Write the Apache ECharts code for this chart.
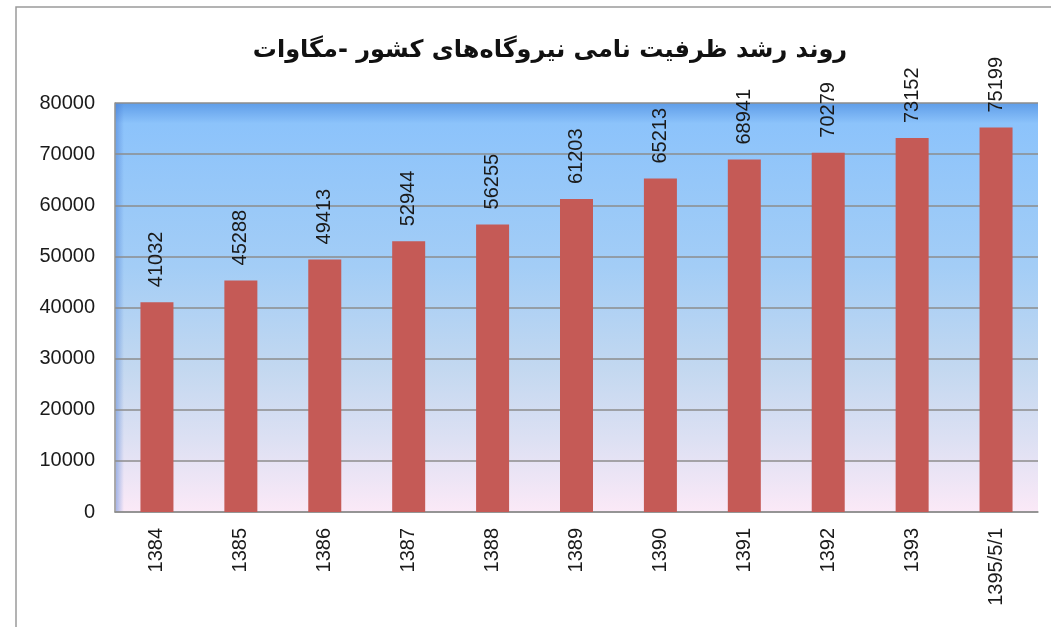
<!DOCTYPE html>
<html>
<head>
<meta charset="utf-8">
<script src="https://cdn.jsdelivr.net/npm/echarts@6/dist/echarts.min.js"></script>
<style>
  html, body { margin: 0; padding: 0; background: #fff; }
  #chart { width: 1051px; height: 627px; }
</style>
</head>
<body>
<div id="chart"></div>
<script>
const titleText = "روند رشد ظرفیت نامی نیروگاه‌های کشور -مگاوات";
const years = ["1384", "1385", "1386", "1387", "1388", "1389", "1390", "1391", "1392", "1393", "1395/5/1"];
const capacity = [41032, 45288, 49413, 52944, 56255, 61203, 65213, 68941, 70279, 73152, 75199];
const yTicks = [0, 10000, 20000, 30000, 40000, 50000, 60000, 70000, 80000];

const myChart = echarts.init(document.getElementById("chart"));

const plotBg = new echarts.graphic.LinearGradient(0, 0, 0, 1, [
  { offset: 0, color: "#5f9de8" },
  { offset: 0.05, color: "#8cc3fb" },
  { offset: 0.4, color: "#a3cdf6" },
  { offset: 0.65, color: "#c3d8f0" },
  { offset: 0.82, color: "#dce0f3" },
  { offset: 1, color: "#fbe9f7" },
]);

const option = {
  animation: false,
  backgroundColor: "#fff",
  title: {
    text: titleText,
    left: 545,
    textAlign: "center",
    top: 34,
    textStyle: {
      fontFamily: "DejaVu Sans",
      fontWeight: "bold",
      fontSize: 24,
      color: "#111",
    },
  },
  graphic: [
    {
      type: "rect",
      shape: { x: 16, y: 7, width: 1100, height: 700 },
      style: { fill: "none", stroke: "#9a9a9a", lineWidth: 1.5 },
      silent: true,
    },
    {
      // soft shading along the left edge of the plot
      type: "rect",
      shape: { x: 116, y: 103, width: 8, height: 409 },
      style: {
        fill: new echarts.graphic.LinearGradient(0, 0, 1, 0, [
          { offset: 0, color: "rgba(70,120,210,0.45)" },
          { offset: 1, color: "rgba(70,120,210,0)" },
        ]),
      },
      silent: true,
      z: 0,
    },
  ],
  grid: {
    left: 115,
    right: 13,
    top: 103,
    bottom: 115,
    show: true,
    backgroundColor: plotBg,
    borderWidth: 0,
  },
  xAxis: {
    type: "category",
    data: years,
    axisLine: { lineStyle: { color: "#8f8f8f", width: 1.5 } },
    axisTick: { show: false },
    axisLabel: {
      rotate: 90,
      margin: 16,
      fontFamily: "Liberation Sans",
      fontSize: 20,
      color: "#1a1a1a",
    },
  },
  yAxis: {
    type: "value",
    min: yTicks[0],
    max: yTicks[yTicks.length - 1],
    interval: 10000,
    axisLine: { show: true, lineStyle: { color: "#8f8f8f", width: 1.5 } },
    axisTick: { show: false },
    splitLine: { lineStyle: { color: "#8c8c8c", width: 1.5 } },
    axisLabel: {
      margin: 20,
      fontFamily: "Liberation Sans",
      fontSize: 20,
      color: "#1a1a1a",
      formatter: function (v) {
        return String(v);
      },
    },
  },
  series: [
    {
      type: "bar",
      data: capacity,
      barWidth: 33,
      itemStyle: { color: "#c55a56" },
      label: {
        show: true,
        position: "top",
        rotate: 90,
        align: "left",
        verticalAlign: "middle",
        distance: 15,
        fontFamily: "Liberation Sans",
        fontSize: 20,
        color: "#1a1a1a",
      },
    },
  ],
};

myChart.setOption(option);
window.addEventListener("resize", function () {
  myChart.resize();
});
</script>
</body>
</html>
